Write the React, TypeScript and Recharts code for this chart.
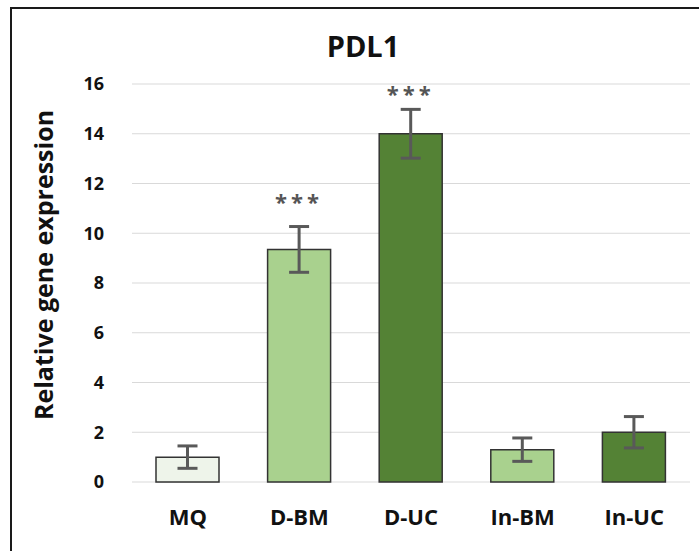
import React from 'react';
import {
  BarChart,
  Bar,
  XAxis,
  YAxis,
  CartesianGrid,
  ErrorBar,
  Cell,
  LabelList,
} from 'recharts';

const groups = ['MQ', 'D-BM', 'D-UC', 'In-BM', 'In-UC'];
const means = [1.0, 9.35, 14.0, 1.3, 2.0];
const errors = [0.45, 0.92, 0.98, 0.47, 0.63];
const stars = ['', '***', '***', '', ''];
// where the significance marks sit, in axis units
const starLevels = [0, 11.3, 15.65, 0, 0];
const fills = ['#eef4ea', '#a9d18e', '#548235', '#a9d18e', '#548235'];
const yTicks = [0, 2, 4, 6, 8, 10, 12, 14, 16];

const data = groups.map((name, i) => ({
  name,
  value: means[i],
  err: errors[i],
  star: stars[i],
  starLevel: starLevels[i],
}));

const font = '"Open Sans", sans-serif';

const StarLabel = (props: any) => {
  const { x, y, width, height, index } = props;
  const d = data[index];
  if (!d || !d.star) return null;
  const perUnit = height / d.value;
  const base = y + height;
  const cy = base - d.starLevel * perUnit;
  return (
    <text
      x={x + width / 2}
      y={cy}
      textAnchor="middle"
      dominantBaseline="central"
      fill="#555"
      fontSize={22}
      fontWeight={700}
      fontFamily={font}
      letterSpacing={4}
    >
      {d.star}
    </text>
  );
};

const App: React.FC = () => {
  return (
    <div
      style={{
        position: 'absolute',
        left: 0,
        top: 0,
        width: 699,
        height: 551,
        background: '#fff',
        overflow: 'hidden',
      }}
    >
      {/* frame */}
      <div
        style={{
          position: 'absolute',
          left: 10,
          top: 7,
          width: 720,
          height: 580,
          borderTop: '2px solid #1a1a1a',
          borderLeft: '2px solid #1a1a1a',
        }}
      />
      {/* title */}
      <div
        style={{
          position: 'absolute',
          left: 263,
          width: 200,
          top: 26,
          textAlign: 'center',
          fontFamily: font,
          fontWeight: 700,
          fontSize: 29,
          lineHeight: '40px',
          color: '#111',
        }}
      >
        PDL1
      </div>
      {/* y axis title */}
      <div
        style={{
          position: 'absolute',
          left: 43,
          top: 265,
          transform: 'translate(-50%, -50%) rotate(-90deg)',
          whiteSpace: 'nowrap',
          fontFamily: font,
          fontWeight: 700,
          fontSize: 25,
          color: '#111',
        }}
      >
        Relative gene expression
      </div>
      <div style={{ position: 'absolute', left: 0, top: 0 }}>
        <BarChart
          width={699}
          height={551}
          data={data}
          margin={{ top: 84, right: 9, bottom: 29, left: 0 }}
        >
          <CartesianGrid vertical={false} stroke="#d9d9d9" strokeWidth={1} />
          <XAxis
            dataKey="name"
            height={40}
            axisLine={false}
            tickLine={false}
            tickMargin={21}
            tick={{ fill: '#111', fontSize: 22, fontWeight: 700, fontFamily: font }}
          />
          <YAxis
            width={132}
            domain={[0, 16]}
            ticks={yTicks}
            axisLine={false}
            tickLine={false}
            tickMargin={22}
            tick={{ fill: '#111', fontSize: 18, fontWeight: 700, fontFamily: font }}
          />
          <Bar
            dataKey="value"
            barSize={63}
            stroke="#333"
            strokeWidth={1.5}
            isAnimationActive={false}
          >
            {data.map((d, i) => (
              <Cell key={d.name} fill={fills[i]} />
            ))}
            <ErrorBar dataKey="err" stroke="#595959" strokeWidth={3} width={10} />
            <LabelList dataKey="value" content={<StarLabel />} />
          </Bar>
        </BarChart>
      </div>
    </div>
  );
};

export default App;
